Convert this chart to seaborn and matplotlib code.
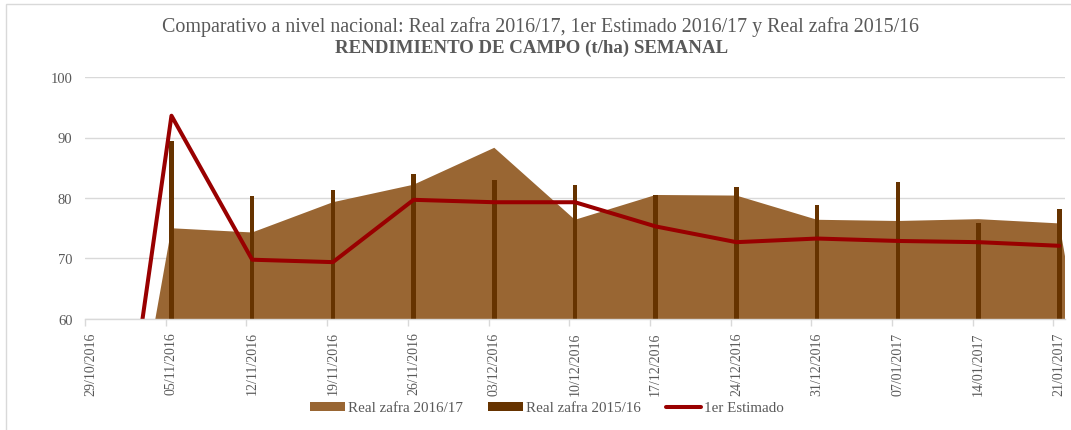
import pandas as pd
import numpy as np
import matplotlib
matplotlib.use("Agg")
import matplotlib.pyplot as plt
import seaborn as sns
from matplotlib.patches import Rectangle


# Data
fechas = ["29/10/2016", "05/11/2016", "12/11/2016", "19/11/2016", "26/11/2016",
          "03/12/2016", "10/12/2016", "17/12/2016", "24/12/2016", "31/12/2016",
          "07/01/2017", "14/01/2017", "21/01/2017"]
fechas_area = fechas + ["28/01/2017"]

real_1617 = [0, 75.0, 74.3, 79.3, 82.2, 88.3, 76.4, 80.5, 80.4, 76.4, 76.2, 76.5, 75.8, 0]
real_1516 = [0, 89.5, 80.3, 81.4, 84.0, 83.0, 82.1, 80.5, 81.9, 78.8, 82.7, 75.9, 78.2]
estimado = [0, 93.6, 69.8, 69.4, 79.7, 79.3, 79.3, 75.3, 72.7, 73.3, 72.9, 72.7, 72.1]

titulo1 = "Comparativo a nivel nacional: Real zafra 2016/17, 1er Estimado 2016/17 y Real zafra 2015/16"
titulo2 = "RENDIMIENTO DE CAMPO (t/ha) SEMANAL"

c_area = "#996633"
c_bar = "#663300"
c_line = "#990000"
c_text = "#595959"
c_grid = "#d9d9d9"


# day positions (points sit in the middle of each day, like an Excel date axis)
d0 = pd.to_datetime(fechas[0], dayfirst=True)
dias = [(pd.to_datetime(f, dayfirst=True) - d0).days for f in fechas]
dias_area = [(pd.to_datetime(f, dayfirst=True) - d0).days for f in fechas_area]

df = pd.DataFrame({"dia": np.array(dias) + 0.5, "real_1516": real_1516, "estimado": estimado})
df_area = pd.DataFrame({"dia": np.array(dias_area) + 0.5, "real_1617": real_1617})


sns.set_style("white")
plt.rcParams["font.family"] = ["Liberation Serif", "DejaVu Serif"]

fig = plt.figure(figsize=(10.71, 4.31), dpi=100)
ax = fig.add_axes([85 / 1071, 1 - 320 / 431, 980 / 1071, 242 / 431])

# Area: Real zafra 2016/17
ax.fill_between(df_area["dia"], 0, df_area["real_1617"], color=c_area, lw=0,
                label="Real zafra 2016/17", zorder=2)

# Bars: Real zafra 2015/16
sns.barplot(data=df, x="dia", y="real_1516", native_scale=True, width=0.4 / 7,
            color=c_bar, saturation=1, errorbar=None, ax=ax, linewidth=0,
            edgecolor=c_bar, label="Real zafra 2015/16", zorder=3)

# Line: 1er Estimado
sns.lineplot(data=df, x="dia", y="estimado", color=c_line, lw=2.9, ax=ax,
             label="1er Estimado", zorder=4)

ax.set_ylim(60, 100)
ax.set_xlim(0, dias[-1] + 1)
ax.set_yticks([60, 70, 80, 90, 100])
ax.yaxis.grid(True, color=c_grid, lw=1)
ax.set_axisbelow(True)

ax.set_xticks(dias)
ax.set_xticklabels([])
ax.set_xticks(np.array(dias) + 0.5, minor=True)
ax.set_xticklabels(fechas, minor=True, rotation=90)
ax.tick_params(axis="x", which="major", length=5, color=c_grid, width=1, direction="out", bottom=True)
ax.tick_params(axis="x", which="minor", length=0, pad=9, labelsize=10, labelcolor=c_text)
ax.tick_params(axis="y", length=0, pad=9, labelsize=10.5, labelcolor=c_text)

ax.set_xlabel("")
ax.set_ylabel("")
for s in ["top", "right", "left"]:
    ax.spines[s].set_visible(False)
ax.spines["bottom"].set_color(c_grid)
ax.spines["bottom"].set_linewidth(1)
ax.spines["bottom"].set_zorder(5)

if ax.legend_:
    ax.legend_.remove()

# Titles
fig.text(541 / 1071, 1 - 27 / 431, titulo1, ha="center", va="center", fontsize=14.4, color=c_text)
fig.text(532 / 1071, 1 - 48 / 431, titulo2, ha="center", va="center", fontsize=13.6,
         fontweight="bold", color=c_text)

# Legend
handles, labels = ax.get_legend_handles_labels()
orden = ["Real zafra 2016/17", "Real zafra 2015/16", "1er Estimado"]
hl = dict(zip(labels, handles))
fig.legend([hl[o] for o in orden], orden, loc="center", bbox_to_anchor=(547 / 1071, 1 - 409 / 431),
           ncol=3, frameon=False, fontsize=10.8, labelcolor=c_text, handlelength=2.3,
           handleheight=0.55, handletextpad=0.2, columnspacing=1.7)

# chart border
fig.patches.append(Rectangle((6 / 1071, -0.02), 1.05, 1 - 5 / 431 + 0.02, transform=fig.transFigure,
                             fill=False, edgecolor=c_grid, lw=1))

fig.savefig("out.png", dpi=100)
